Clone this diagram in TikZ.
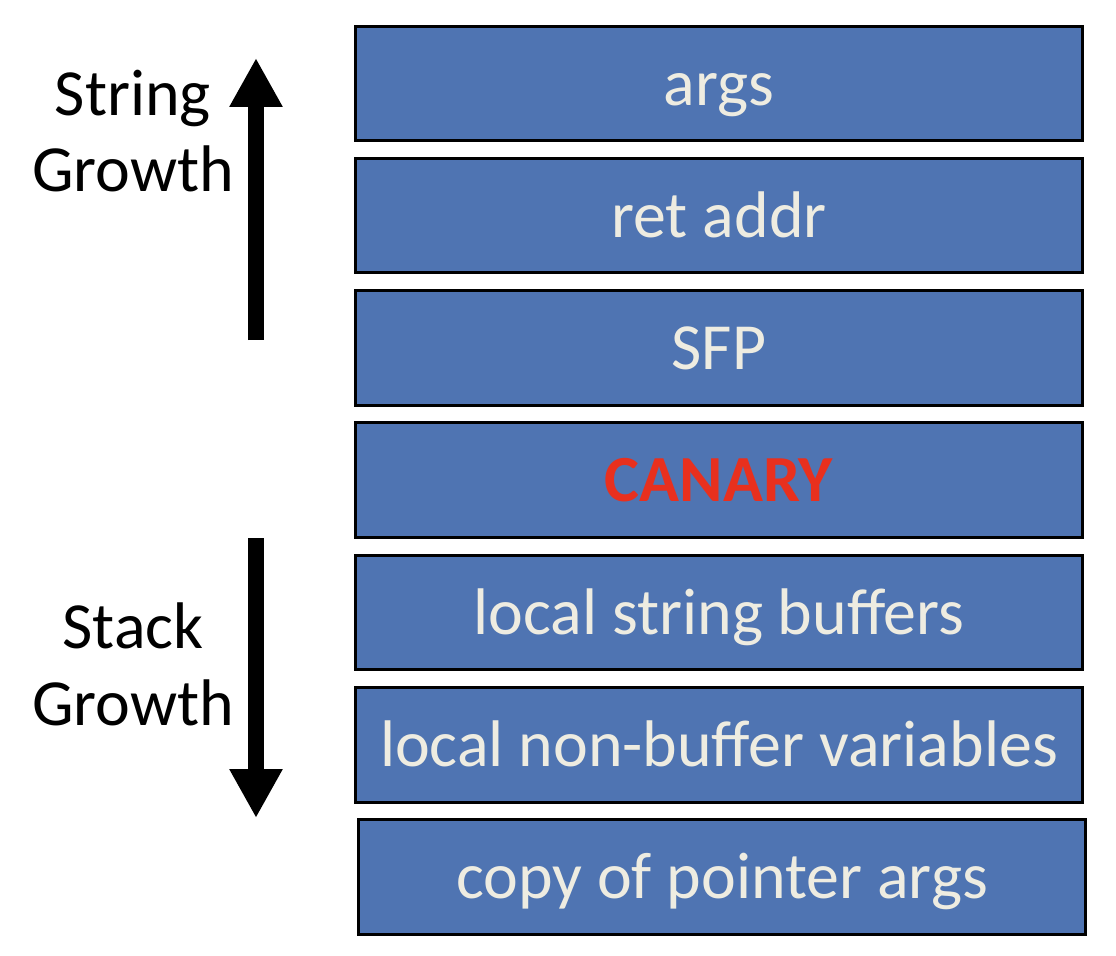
\documentclass[tikz,border=0pt]{standalone}
\usepackage{fontspec}
\setmainfont{Carlito}
\usetikzlibrary{arrows.meta}
\definecolor{boxblue}{RGB}{79,116,178}
\definecolor{boxtext}{RGB}{238,236,225}
\definecolor{canaryred}{RGB}{232,48,30}
\tikzset{
  frame/.style={draw=black, line width=1.7pt, fill=boxblue, text=boxtext,
    minimum width=14.56cm, minimum height=2.3cm, inner sep=0pt,
    text height=25pt, text depth=0pt,
    font=\fontsize{37.5}{44}\selectfont},
  growth/.style={align=center, font=\fontsize{37.5}{43.7}\selectfont},
  bigarrow/.style={line width=9.1pt, -{Triangle[width=28.3pt,length=27.8pt]}}
}
\begin{document}
\begin{tikzpicture}[x=0.02cm,y=-0.02cm]
  \useasboundingbox (0,0) rectangle (1116,956);

  % Stack frame, top to bottom
  \node [frame] (args) at (719,83.5) {args};
  \node [frame] (ret) at (719,215.5) {ret addr};
  \node [frame] (sfp) at (719,348) {SFP};
  \node [frame, text=canaryred, font=\fontsize{37.5}{44}\selectfont\bfseries] (canary) at (719,480) {CANARY};
  \node [frame] (strbuf) at (719,612.5) {local string buffers};
  \node [frame] (locvar) at (719,745) {local non-buffer variables};
  \node [frame] (ptrargs) at (722,877) {copy of pointer args};

  % Growth directions
  \node [growth] (strgrow) at (133,131) {String\\Growth};
  \node [growth] (stkgrow) at (133,664) {Stack\\Growth};
  \coordinate (upfoot) at (256,340);
  \coordinate (uptip) at (256,58);
  \coordinate (downfoot) at (256,538);
  \coordinate (downtip) at (256,818);
  \draw [bigarrow] (upfoot) -- (uptip);
  \draw [bigarrow] (downfoot) -- (downtip);
\end{tikzpicture}
\end{document}
